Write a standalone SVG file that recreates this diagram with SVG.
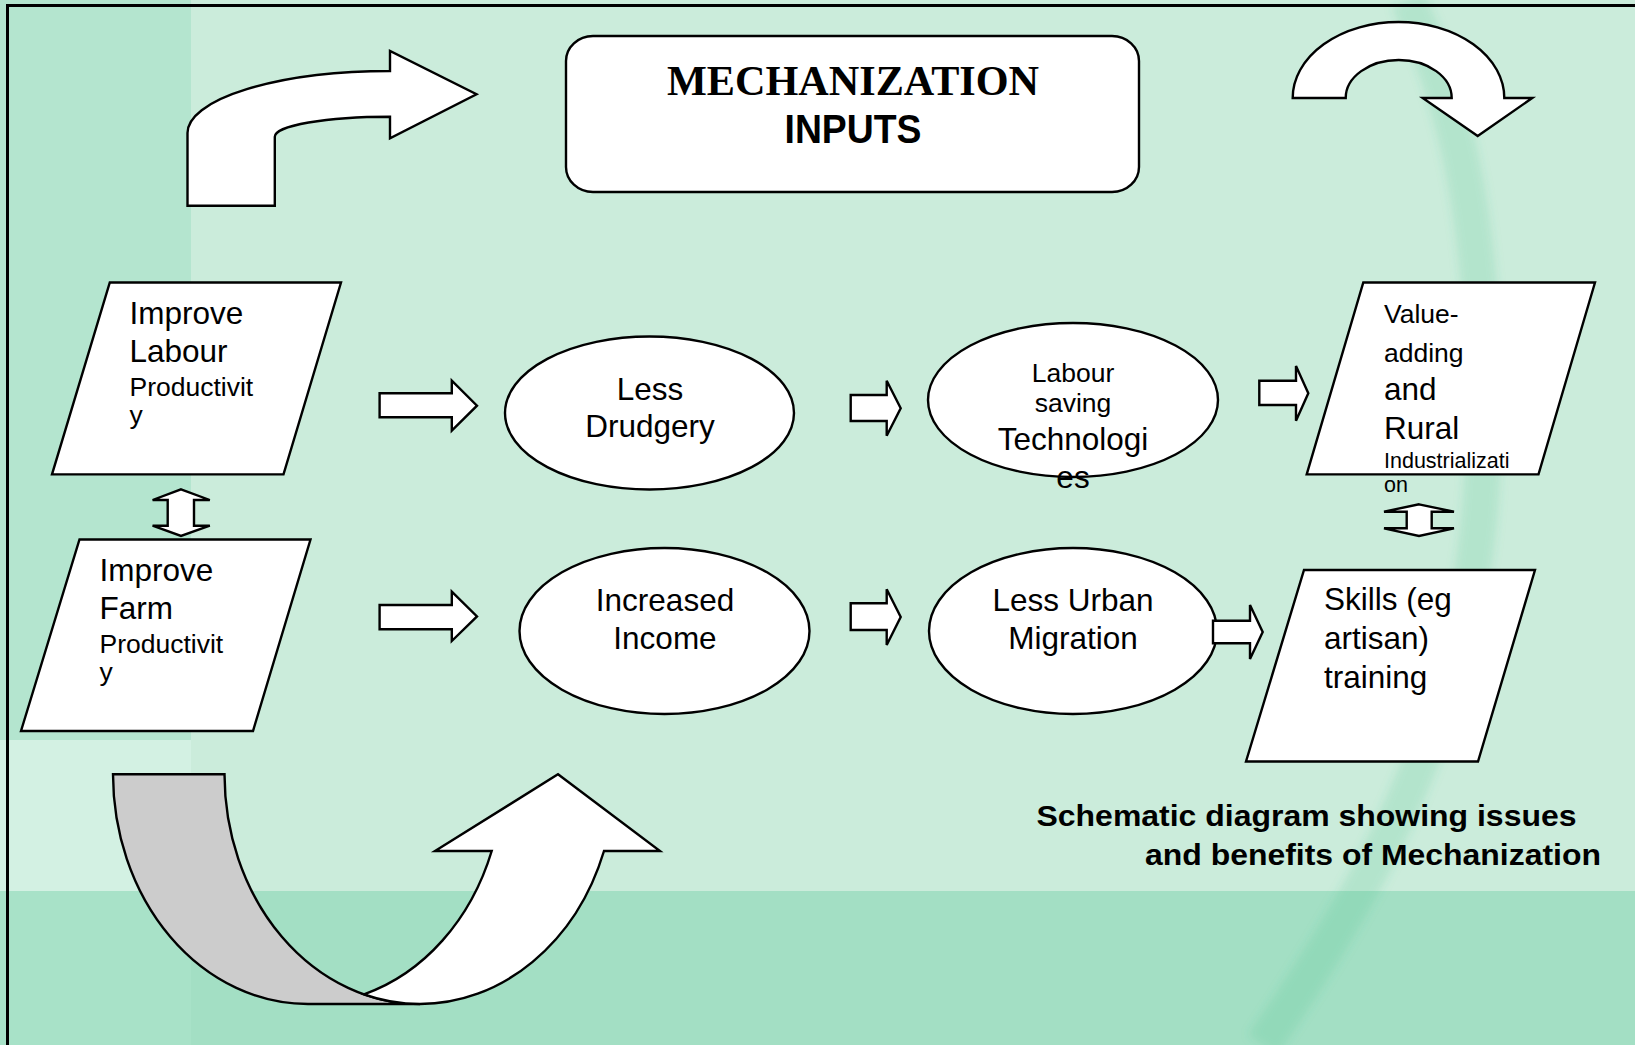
<svg xmlns="http://www.w3.org/2000/svg" width="1635" height="1045" viewBox="0 0 1635 1045">
<defs>
<style>
.shape{fill:#ffffff;stroke:#000000;stroke-width:2.4;stroke-linejoin:miter}
.arr{fill:#ffffff;stroke:#000000;stroke-width:2.4;stroke-linejoin:miter}
.t{font-family:"Liberation Sans",Arial,sans-serif;fill:#000000}
.big{font-size:31.5px}
.mid{font-size:26.5px}
.sm{font-size:21.5px}
.ctr{text-anchor:middle}
</style>
<filter id="soft" x="-20%" y="-5%" width="140%" height="110%"><feGaussianBlur stdDeviation="5"/></filter>
</defs>
<g id="background">
<rect x="0" y="0" width="1635" height="1045" fill="#cbecdb"/>
<rect x="0" y="0" width="191" height="740" fill="#b4e5cf"/>
<rect x="0" y="740" width="191" height="151" fill="#d3f1e3"/>
<rect x="0" y="891" width="1635" height="154" fill="#a3dfc4"/>
<rect x="0" y="891" width="191" height="154" fill="#a8e2c8"/>
<path d="M 1408 0 C 1450 90 1482 200 1484 400 C 1486 600 1440 720 1400 810 C 1360 900 1300 990 1263 1045" fill="none" stroke="#3cbe82" stroke-opacity="0.17" stroke-width="36" filter="url(#soft)"/>
<rect x="7.5" y="5.5" width="1640" height="1050" fill="none" stroke="#000000" stroke-width="3"/>
</g>
<g id="title-box">
<rect class="shape" x="566" y="36" width="573" height="156" rx="27" ry="25"/>
<text x="853" y="95" text-anchor="middle" font-family="'Liberation Serif','Times New Roman',serif" font-weight="bold" font-size="42" textLength="372" lengthAdjust="spacingAndGlyphs">MECHANIZATION</text>
<text x="853" y="142.5" text-anchor="middle" font-family="'Liberation Sans',Arial,sans-serif" font-weight="bold" font-size="40" textLength="137" lengthAdjust="spacingAndGlyphs">INPUTS</text>
</g>
<g id="improve-labour">
<polygon class="shape" points="109.8,282.5 341,282.5 283.5,474.4 52,474.4"/>
<text class="t big" x="129.5" y="324">Improve</text>
<text class="t big" x="129.5" y="362">Labour</text>
<text class="t mid" x="129.5" y="396">Productivit</text>
<text class="t mid" x="129.5" y="424">y</text>
</g>
<g id="improve-farm">
<polygon class="shape" points="79.5,539.5 310.5,539.5 253,731 21,731"/>
<text class="t big" x="99.5" y="581">Improve</text>
<text class="t big" x="99.5" y="619">Farm</text>
<text class="t mid" x="99.5" y="653">Productivit</text>
<text class="t mid" x="99.5" y="681">y</text>
</g>
<g id="less-drudgery">
<ellipse class="shape" cx="649.5" cy="413" rx="144.5" ry="76.5"/>
<text class="t big ctr" x="650" y="400">Less</text>
<text class="t big ctr" x="650" y="437">Drudgery</text>
</g>
<g id="labour-saving">
<ellipse class="shape" cx="1073" cy="400" rx="145" ry="77"/>
<text class="t mid ctr" x="1073" y="382">Labour</text>
<text class="t mid ctr" x="1073" y="412">saving</text>
<text class="t big ctr" x="1073" y="450">Technologi</text>
<text class="t big ctr" x="1073" y="488">es</text>
</g>
<g id="increased-income">
<ellipse class="shape" cx="664.5" cy="631" rx="145" ry="83"/>
<text class="t big ctr" x="665" y="611">Increased</text>
<text class="t big ctr" x="665" y="649">Income</text>
</g>
<g id="less-urban-migration">
<ellipse class="shape" cx="1073" cy="631" rx="144" ry="83"/>
<text class="t big ctr" x="1073" y="611">Less Urban</text>
<text class="t big ctr" x="1073" y="649">Migration</text>
</g>
<g id="value-adding">
<polygon class="shape" points="1363.3,282.5 1595,282.5 1538.5,474.4 1306.7,474.4"/>
<text class="t mid" x="1384" y="323">Value-</text>
<text class="t mid" x="1384" y="361.5">adding</text>
<text class="t big" x="1384" y="400">and</text>
<text class="t big" x="1384" y="438.5">Rural</text>
<text class="t sm" x="1384" y="467.5">Industrializati</text>
<text class="t sm" x="1384" y="491.5">on</text>
</g>
<g id="skills-training">
<polygon class="shape" points="1304,570 1535,570 1478,761.5 1246,761.5"/>
<text class="t big" x="1324" y="610">Skills (eg</text>
<text class="t big" x="1324" y="648.5">artisan)</text>
<text class="t big" x="1324" y="688">training</text>
</g>
<g id="connectors">
<path class="arr" d="M 379.6 393.3 H 451.8 V 380.7 L 477 405.7 L 451.8 430.7 V 417.3 H 379.6 Z"/>
<path class="arr" d="M 379.6 605 H 451.8 V 591.7 L 477 616.4 L 451.8 641 V 629.3 H 379.6 Z"/>
<path class="arr" d="M 850.7 395 H 886.7 V 380.7 L 900.7 408.3 L 886.7 435.7 V 421 H 850.7 Z"/>
<path class="arr" d="M 850.7 603.3 H 886.7 V 589.3 L 900.7 617 L 886.7 645 V 630 H 850.7 Z"/>
<path class="arr" d="M 1259.3 380.7 H 1296 V 366 L 1308.3 393.3 L 1296 420.7 V 405 H 1259.3 Z"/>
<path class="arr" d="M 1213 620.7 H 1250 V 605 L 1262.7 632 L 1250 659 V 643.3 H 1213 Z"/>
<path class="arr" d="M 181 489.3 L 209.8 500 H 194 V 525.7 H 209.8 L 181 536 L 152.6 525.7 H 167.7 V 500 H 152.6 Z"/>
<path class="arr" d="M 1419 504.3 L 1454 511.7 H 1431.7 V 528.3 H 1454 L 1419 536 L 1384 528.3 H 1406.7 V 511.7 H 1384 Z"/>
</g>
<g id="cycle-arrows">
<path class="arr" d="M 187.5 205.7 L 187.5 133 A 202.5 62 0 0 1 390 71 L 390 51 L 476.5 94.3 L 390 138.3 L 390 116.7 A 115 20 0 0 0 274.8 136.7 L 274.8 205.7 Z"/>
<path class="arr" d="M 1292.7 98 A 105.8 76 0 0 1 1504.3 98 L 1532.3 98 L 1477.7 136 L 1422.7 98 L 1451.7 98 A 53 38 0 0 0 1345.7 98 Z"/>
<path d="M 113 774.3 L 224.5 774.3 A 195.5 230 0 0 0 420 1004 L 308 1004 A 195 230 0 0 1 113 774.3 Z" fill="#cccccc" stroke="#000000" stroke-width="2.4"/>
<path class="arr" d="M 364 994.3 A 195 230 0 0 0 491.7 851 L 435 851 L 558 774.3 L 660 851 L 604 851 A 195.5 230 0 0 1 420 1004 A 195.5 230 0 0 1 364 994.3 Z"/>
</g>
<g id="caption">
<text class="t" x="1036.5" y="826" font-weight="bold" font-size="30" textLength="540" lengthAdjust="spacingAndGlyphs">Schematic diagram showing issues</text>
<text class="t" x="1145" y="864.5" font-weight="bold" font-size="30" textLength="456" lengthAdjust="spacingAndGlyphs">and benefits of Mechanization</text>
</g>
</svg>
